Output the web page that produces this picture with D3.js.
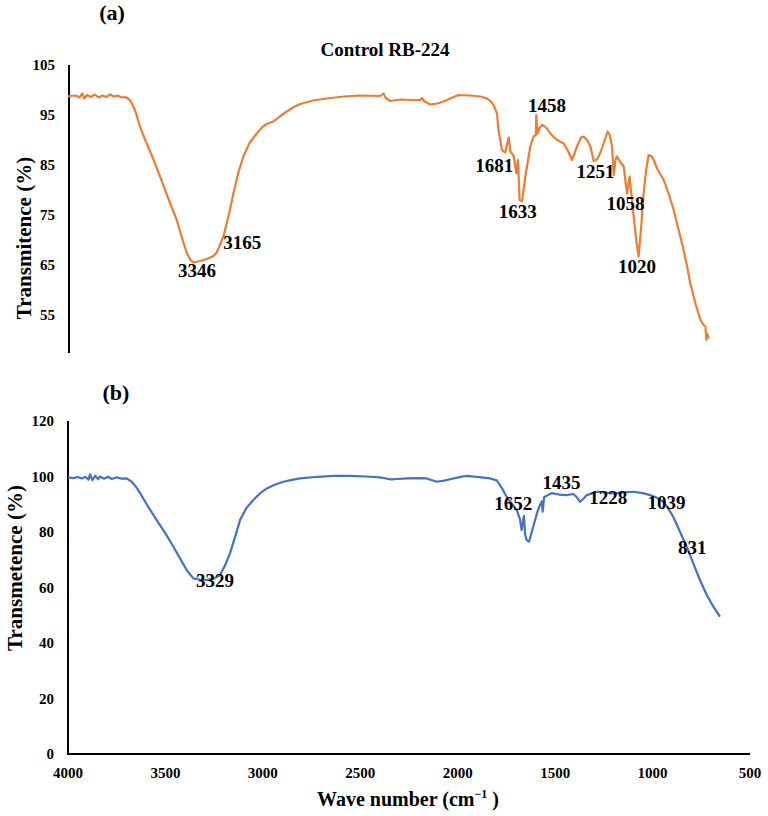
<!DOCTYPE html>
<meta charset="utf-8">
<script src="https://d3js.org/d3.v7.min.js"></script>
<style>
  body { margin: 0; background: #fff; }
  text { font-family: "Liberation Serif", "Times New Roman", serif; font-weight: bold; fill: #000; }
</style>
<div id="chart"></div>
<script>
  // (a) Control RB-224 : [wavenumber, transmittance]
  var spectrumA = [
    [4000, 98.7], [3990, 98.8], [3960, 98.9], [3940, 98.5], [3925, 99.3], [3915, 98.3], [3900, 99.0],
    [3880, 98.6], [3860, 99.1], [3840, 98.5], [3820, 98.9], [3800, 98.6], [3780, 99.1], [3760, 98.7],
    [3740, 98.9], [3720, 98.5], [3700, 98.6], [3676, 98.0], [3650, 96.0], [3624, 92.7], [3600, 90.3],
    [3560, 86.7], [3519, 82.7], [3475, 78.2], [3432, 74.0], [3405, 70.5], [3380, 67.4], [3360, 66.0],
    [3346, 65.5], [3310, 65.8], [3275, 66.2], [3240, 66.8], [3223, 67.5], [3188, 70.7], [3160, 75.0],
    [3136, 79.3], [3110, 83.5], [3084, 86.7], [3050, 89.5], [3014, 91.3], [2985, 92.6], [2961, 93.2],
    [2927, 93.7], [2890, 94.8], [2857, 95.7], [2820, 96.6], [2787, 97.2], [2720, 97.9], [2648, 98.3],
    [2560, 98.7], [2474, 98.9], [2369, 98.8], [2352, 99.3], [2340, 98.4], [2317, 97.8], [2264, 98.1],
    [2200, 98.0], [2160, 98.0], [2151, 98.4], [2140, 97.8], [2108, 97.1], [2070, 97.3], [2038, 97.7],
    [2003, 98.3], [1960, 99.0], [1900, 98.9], [1846, 98.7], [1811, 98.3], [1794, 97.8], [1777, 97.0],
    [1759, 95.3], [1751, 92.0], [1733, 88.0], [1716, 87.5], [1698, 90.5], [1689, 87.7], [1672, 86.8],
    [1658, 83.4], [1649, 86.0], [1641, 78.0], [1628, 77.8], [1611, 82.7], [1585, 88.7], [1568, 90.7],
    [1556, 91.0], [1554, 95.0], [1547, 91.3], [1535, 92.5], [1524, 93.0], [1510, 92.7], [1498, 92.3],
    [1480, 91.3], [1460, 90.5], [1445, 90.0], [1430, 89.7], [1411, 89.3], [1390, 88.0], [1367, 86.0],
    [1341, 88.7], [1320, 90.5], [1306, 90.7], [1285, 89.8], [1271, 88.7], [1254, 85.8], [1235, 86.2],
    [1219, 87.5], [1202, 89.3], [1181, 91.7], [1170, 91.0], [1158, 88.7], [1149, 83.0], [1140, 86.0],
    [1132, 86.7], [1115, 85.6], [1097, 84.7], [1080, 79.3], [1066, 82.7], [1045, 74.7], [1030, 69.5],
    [1019, 66.7], [1005, 73.0], [993, 79.3], [980, 84.0], [967, 87.0], [949, 86.7], [935, 85.5],
    [923, 84.3], [888, 82.0], [860, 79.0], [836, 76.0], [810, 72.0], [784, 68.0], [765, 64.5],
    [749, 61.3], [720, 57.0], [696, 54.0], [680, 53.0], [670, 52.7], [665, 50.0], [660, 51.2],
    [653, 50.3]
  ];

  // (b) : [wavenumber, transmittance]
  var spectrumB = [
    [4000, 99.7], [3970, 99.4], [3950, 99.8], [3930, 99.3], [3910, 99.9], [3895, 98.8], [3887, 100.8],
    [3875, 98.7], [3860, 100.3], [3845, 99.0], [3836, 100.0], [3815, 99.2], [3795, 99.9], [3775, 99.1],
    [3750, 99.7], [3725, 99.2], [3699, 99.3], [3673, 98.1], [3650, 96.2], [3630, 94.0], [3590, 89.3],
    [3545, 84.3], [3500, 79.5], [3459, 74.7], [3425, 70.5], [3391, 66.3], [3357, 63.3], [3320, 62.8],
    [3288, 62.7], [3250, 63.3], [3220, 64.5], [3195, 67.8], [3169, 72.3], [3140, 78.8], [3117, 84.3],
    [3085, 88.6], [3049, 91.5], [3015, 93.9], [2980, 95.7], [2940, 97.0], [2895, 98.1], [2850, 98.8],
    [2809, 99.3], [2720, 99.9], [2638, 100.2], [2553, 100.2], [2470, 100.0], [2399, 99.7], [2348, 99.0],
    [2331, 99.0], [2260, 99.3], [2200, 99.4], [2159, 99.3], [2108, 98.1], [2070, 98.5], [2040, 99.0],
    [1990, 99.8], [1954, 100.2], [1890, 99.8], [1834, 99.3], [1800, 98.6], [1783, 96.9], [1765, 94.8],
    [1749, 92.7], [1720, 90.0], [1697, 87.9], [1680, 84.5], [1672, 80.7], [1660, 85.8], [1654, 79.0],
    [1646, 77.1], [1634, 76.5], [1618, 80.5], [1603, 84.3], [1590, 87.5], [1578, 89.7], [1568, 91.0],
    [1564, 87.3], [1557, 92.5], [1540, 93.2], [1518, 94.0], [1480, 93.5], [1441, 93.3], [1407, 93.7],
    [1390, 92.6], [1372, 90.9], [1355, 92.0], [1338, 93.3], [1287, 94.5], [1240, 94.2], [1201, 93.9],
    [1150, 94.3], [1099, 94.5], [1050, 94.0], [1013, 93.3], [980, 92.4], [945, 90.9], [920, 88.5],
    [894, 85.5], [860, 80.2], [825, 74.7], [790, 68.5], [757, 62.7], [720, 57.0], [688, 53.1],
    [670, 51.2], [654, 49.5]
  ];

  // peak labels: [text, wavenumber, transmittance] of the label anchor
  var peaksA = [
    ["3346", 3326, 62.6], ["3165", 3090, 68.2], ["1681", 1773, 83.6], ["1633", 1651, 74.4],
    ["1458", 1498, 95.6], ["1251", 1245, 82.4], ["1058", 1088, 76.0], ["1020", 1027, 63.4]
  ];
  var peaksB = [
    ["3329", 3246, 60.2], ["1652", 1715, 87.9], ["1435", 1468, 95.5], ["1228", 1227, 90.1],
    ["1039", 928, 88.3], ["831", 796, 72.1]
  ];

  var ticksA = [55, 65, 75, 85, 95, 105];
  var ticksB = [0, 20, 40, 60, 80, 100, 120];
  var ticksX = [4000, 3500, 3000, 2500, 2000, 1500, 1000, 500];

  var W = 768, H = 816;
  var svg = d3.select("#chart").append("svg")
    .attr("width", W)
    .attr("height", H);
  svg.append("rect").attr("width", W).attr("height", H).attr("fill", "#fff");

  // ---------- panel (a) ----------
  var xA = d3.scaleLinear().domain([4000, 500]).range([68, 738]);
  var yA = d3.scaleLinear().domain([47.4, 105]).range([353, 65]);

  var gA = svg.append("g");

  gA.append("line")
    .attr("x1", 69).attr("x2", 69)
    .attr("y1", yA(105)).attr("y2", yA(47.4))
    .attr("stroke", "#000").attr("stroke-width", 2);

  gA.selectAll(".tickA").data(ticksA).enter().append("text")
    .attr("x", 55)
    .attr("y", function (d) { return yA(d) + 5; })
    .attr("text-anchor", "end")
    .style("font-size", "15px")
    .text(function (d) { return d; });

  gA.append("path")
    .datum(spectrumA)
    .attr("fill", "none")
    .attr("stroke", "#ED7D31")
    .attr("stroke-width", 2.2)
    .attr("stroke-linejoin", "round")
    .attr("d", d3.line()
      .x(function (d) { return xA(d[0]); })
      .y(function (d) { return yA(d[1]); }));

  gA.selectAll(".peakA").data(peaksA).enter().append("text")
    .attr("x", function (d) { return xA(d[1]); })
    .attr("y", function (d) { return yA(d[2]); })
    .attr("text-anchor", "middle")
    .style("font-size", "19px")
    .text(function (d) { return d[0]; });

  gA.append("text")
    .attr("x", 112).attr("y", 20)
    .attr("text-anchor", "middle")
    .style("font-size", "22px")
    .text("(a)");

  gA.append("text")
    .attr("x", 385).attr("y", 56)
    .attr("text-anchor", "middle")
    .style("font-size", "19px")
    .text("Control RB-224");

  gA.append("text")
    .attr("transform", "translate(31,238) rotate(-90)")
    .attr("text-anchor", "middle")
    .style("font-size", "21px")
    .text("Transmitence (%)");

  // ---------- panel (b) ----------
  var xB = d3.scaleLinear().domain([4000, 500]).range([68, 750]);
  var yB = d3.scaleLinear().domain([0, 120]).range([754, 421]);

  var gB = svg.append("g");

  gB.append("line")
    .attr("x1", 68).attr("x2", 68)
    .attr("y1", yB(120)).attr("y2", yB(0))
    .attr("stroke", "#000").attr("stroke-width", 2);
  gB.append("line")
    .attr("x1", 67).attr("x2", xB(500))
    .attr("y1", yB(0)).attr("y2", yB(0))
    .attr("stroke", "#000").attr("stroke-width", 2);

  gB.selectAll(".tickB").data(ticksB).enter().append("text")
    .attr("x", 54)
    .attr("y", function (d) { return yB(d) + 5; })
    .attr("text-anchor", "end")
    .style("font-size", "15px")
    .text(function (d) { return d; });

  gB.selectAll(".tickX").data(ticksX).enter().append("text")
    .attr("x", function (d) { return xB(d); })
    .attr("y", 778)
    .attr("text-anchor", "middle")
    .style("font-size", "15px")
    .text(function (d) { return d; });

  gB.append("path")
    .datum(spectrumB)
    .attr("fill", "none")
    .attr("stroke", "#4472C4")
    .attr("stroke-width", 2.2)
    .attr("stroke-linejoin", "round")
    .attr("d", d3.line()
      .x(function (d) { return xB(d[0]); })
      .y(function (d) { return yB(d[1]); }));

  gB.selectAll(".peakB").data(peaksB).enter().append("text")
    .attr("x", function (d) { return xB(d[1]); })
    .attr("y", function (d) { return yB(d[2]); })
    .attr("text-anchor", "middle")
    .style("font-size", "19px")
    .text(function (d) { return d[0]; });

  gB.append("text")
    .attr("x", 116).attr("y", 400)
    .attr("text-anchor", "middle")
    .style("font-size", "22px")
    .text("(b)");

  gB.append("text")
    .attr("transform", "translate(22,568) rotate(-90)")
    .attr("text-anchor", "middle")
    .style("font-size", "21px")
    .text("Transmetence (%)");

  var xt = gB.append("text")
    .attr("x", 408).attr("y", 806)
    .attr("text-anchor", "middle")
    .style("font-size", "20px");
  xt.append("tspan").text("Wave number (cm");
  xt.append("tspan").attr("dy", -8).style("font-size", "12px").text("\u22121");
  xt.append("tspan").attr("dy", 8).text(" )");
</script>
